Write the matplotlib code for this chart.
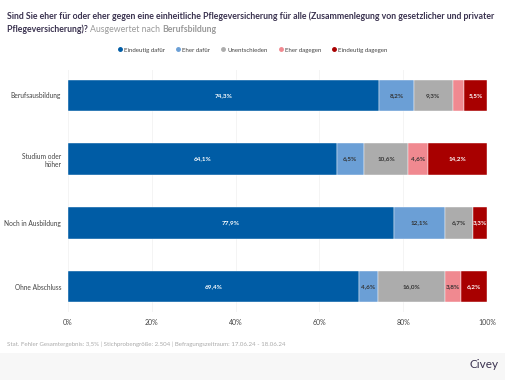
import numpy as np
import matplotlib.pyplot as plt
from matplotlib.lines import Line2D
from matplotlib.patches import Rectangle

plt.rcParams['font.family'] = ['Lato', 'DejaVu Sans']

groups = ['Berufsausbildung', 'Studium oder\nhöher', 'Noch in Ausbildung', 'Ohne Abschluss']
answers = ['Eindeutig dafür', 'Eher dafür', 'Unentschieden', 'Eher dagegen', 'Eindeutig dagegen']
eindeutig_dafuer = [74.3, 64.1, 77.9, 69.4]
eher_dafuer = [8.2, 6.5, 12.1, 4.6]
unentschieden = [9.3, 10.6, 6.7, 16.0]
eher_dagegen = [2.7, 4.6, 0.0, 3.8]
eindeutig_dagegen = [5.5, 14.2, 3.3, 6.2]

colors = ['#005ca5', '#6b9fd6', '#acacac', '#f08990', '#a80000']
text_colors = ['white', '#333333', '#333333', '#333333', 'white']

fig = plt.figure(figsize=(5.05, 3.80), dpi=100)
ax = fig.add_axes([68 / 505, 1 - 312 / 380, (487 - 68) / 505, 242 / 380])

series = [eindeutig_dafuer, eher_dafuer, unentschieden, eher_dagegen, eindeutig_dagegen]
y = np.arange(len(groups))
left = np.zeros(len(groups))
for vals, col, tc in zip(series, colors, text_colors):
    vals = np.array(vals)
    ax.barh(y, vals, left=left, height=0.5, color=col, edgecolor='white', linewidth=0.3, zorder=2)
    for yi, l, v in zip(y, left, vals):
        if v >= 3:
            ax.text(l + v / 2, yi, f'{v:.1f}%'.replace('.', ','), ha='center', va='center',
                    fontsize=4.6, color=tc, fontweight='bold', zorder=3)
    left += vals

ax.set_xlim(0, 100)
ax.set_ylim(3.4, -0.4)
ax.set_xticks(np.arange(0, 101, 20))
ax.set_xticklabels([f'{t}%' for t in range(0, 101, 20)], fontsize=5, color='#444444')
ax.set_yticks(y)
ax.set_yticklabels(groups, fontsize=4.8, color='#444444')
ax.tick_params(length=0, pad=5)
ax.grid(axis='x', color='#f2f2f2', linewidth=0.6, zorder=0)
for s in ax.spines.values():
    s.set_visible(False)

# Title
title_col = '#3b3350'
fs = 6.3
fig.text(7 / 505, 1 - 16 / 380, 'Sind Sie eher für oder eher gegen eine einheitliche Pflegeversicherung für alle '
         '(Zusammenlegung von gesetzlicher und privater', fontsize=fs, fontweight='bold',
         color=title_col, va='center')
t1 = fig.text(7 / 505, 1 - 29 / 380, 'Pflegeversicherung)? ', fontsize=fs, fontweight='bold',
              color=title_col, va='center')
t2 = fig.text(0, 0, 'Ausgewertet nach ', fontsize=fs, color='#9a9a9a', va='center')
fig.canvas.draw()
r = fig.canvas.get_renderer()
bb = t1.get_window_extent(r)
t2.set_position((bb.x1 / fig.bbox.width, 1 - 29 / 380))
fig.canvas.draw()
bb2 = t2.get_window_extent(r)
fig.text(bb2.x1 / fig.bbox.width, 1 - 29 / 380, 'Berufsbildung', fontsize=fs, fontweight='bold',
         color='#9a9a9a', va='center')

# Legend
handles = [Line2D([], [], marker='o', linestyle='', markersize=2.5, color=c) for c in colors]
fig.legend(handles, answers, loc='center', bbox_to_anchor=(253 / 505, 1 - 50 / 380), ncol=5,
           frameon=False, fontsize=4.4, handletextpad=0.3, columnspacing=1.9, handlelength=0.6,
           labelcolor='#444444')

# Footer
fig.text(7 / 505, 1 - 344 / 380, 'Stat. Fehler Gesamtergebnis: 3,5% | Stichprobengröße: 2.504 | '
         'Befragungszeitraum: 17.06.24 - 18.06.24', fontsize=4.4, color='#aaaaaa', va='center')
fig.patches.append(Rectangle((0, 0), 1, 27 / 380, transform=fig.transFigure,
                             facecolor='#f7f7f7', edgecolor='none', zorder=0))
fig.text(498 / 505, 1 - 365 / 380, 'Civey', fontsize=8.5, color=title_col, ha='right', va='center')

fig.savefig('out.png', dpi=100)
